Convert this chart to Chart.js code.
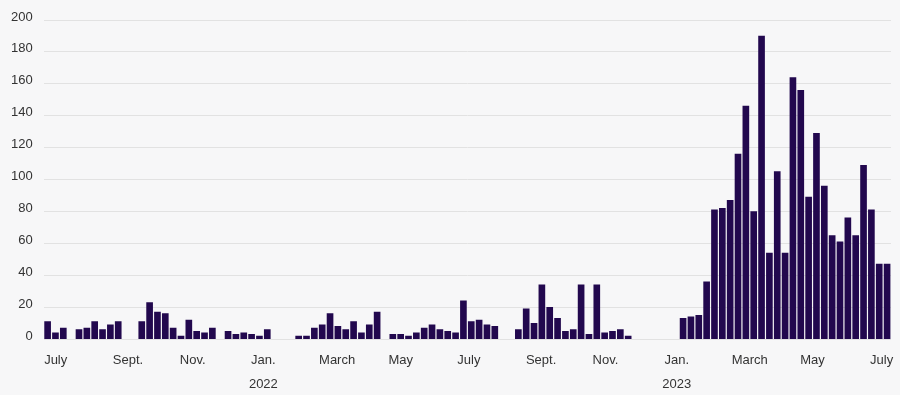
<!DOCTYPE html>
<html>
<head>
<meta charset="utf-8">
<script src="https://cdn.jsdelivr.net/npm/chart.js@4/dist/chart.umd.min.js"></script>
<style>
  html, body { margin: 0; padding: 0; background: #f7f7f8; }
  #wrap { width: 900px; height: 395px; }
</style>
</head>
<body>
<div id="wrap"><canvas id="chart" width="900" height="395"></canvas></div>
<script>
"use strict";

// weekly counts, first week = late June 2021 (null = no bar that week)
let counts = [
  11, 4, 7, null, 6, 7, 11, 6, 9, 11,
  null, null, 11, 23, 17, 16, 7, 2, 12, 5,
  4, 7, null, 5, 3, 4, 3, 2, 6, null,
  null, null, 2, 2, 7, 9, 16, 8, 6, 11,
  4, 9, 17, null, 3, 3, 2, 4, 7, 9,
  6, 5, 4, 24, 11, 12, 9, 8, null, null,
  6, 19, 10, 34, 20, 13, 5, 6, 34, 3,
  34, 4, 5, 6, 2, null, null, null, null, null,
  null, 13, 14, 15, 36, 81, 82, 87, 116, 146,
  80, 190, 54, 105, 54, 164, 156, 89, 129, 96,
  65, 61, 76, 65, 109, 81, 47, 47
];

// month ticks, positioned in week units
let monthLabels = ["July", "Sept.", "Nov.", "Jan.", "March", "May", "July", "Sept.", "Nov.", "Jan.", "March", "May", "July"];
let monthWeeks = [1.03, 10.25, 18.5, 27.5, 36.9, 45.0, 53.7, 62.9, 71.1, 80.2, 89.5, 97.5, 106.3];
let yearLabels = ["", "", "", "2022", "", "", "", "", "", "2023", "", "", ""];

let yTicks = [0, 20, 40, 60, 80, 100, 120, 140, 160, 180, 200];

let points = counts.map((v, i) => ({ x: i, y: v }));

let textColor = "#333333";
let gridColor = "#e2e2e2";

// let the layout padding decide, not the label overflow
let noOverflow = scale => {
  scale.paddingTop = 0;
  scale.paddingBottom = 0;
  scale.paddingLeft = 0;
  scale.paddingRight = 0;
};

let ctx = document.querySelector("#chart");
let myChart = new Chart(ctx, {
  type: "bar",
  data: {
    datasets: [{
      data: points,
      backgroundColor: "#22084e",
      borderWidth: 0,
      barThickness: 6
    }]
  },
  options: {
    responsive: false,
    animation: false,
    layout: {
      padding: { top: 20, right: 9, bottom: -11, left: 0 }
    },
    plugins: {
      legend: { display: false },
      tooltip: { enabled: false }
    },
    scales: {
      x: {
        type: "linear",
        offset: false,
        min: -0.5,
        max: counts.length - 0.5,
        grid: { display: false, drawTicks: false },
        border: { display: false },
        afterBuildTicks: scale => {
          scale.ticks = monthWeeks.map(w => ({ value: w }));
        },
        afterFit: noOverflow,
        ticks: {
          autoSkip: false,
          maxRotation: 0,
          padding: 10,
          color: textColor,
          font: { family: "'Liberation Sans', Arial, sans-serif", size: 13, lineHeight: 1.8 },
          callback: (value, index) => {
            if (yearLabels[index]) {
              return [monthLabels[index], yearLabels[index]];
            }
            return monthLabels[index];
          }
        }
      },
      y: {
        min: 0,
        max: 200,
        afterBuildTicks: scale => {
          scale.ticks = yTicks.map(v => ({ value: v }));
        },
        afterFit: noOverflow,
        grid: { color: gridColor, lineWidth: 1, drawTicks: false },
        border: { display: false },
        ticks: {
          padding: 11,
          labelOffset: -3,
          color: textColor,
          font: { family: "'Liberation Sans', Arial, sans-serif", size: 13 }
        }
      }
    }
  }
});
</script>
</body>
</html>
